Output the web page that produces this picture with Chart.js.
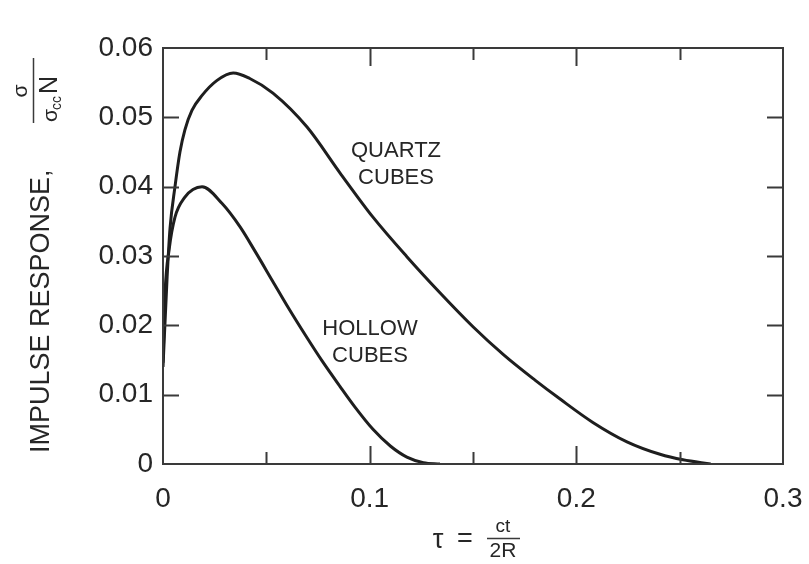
<!DOCTYPE html>
<html>
<head>
<meta charset="utf-8">
<script src="https://cdn.jsdelivr.net/npm/chart.js@4.4.1/dist/chart.umd.min.js"></script>
<style>
  html, body { margin: 0; padding: 0; background: #fff; }
  #wrap { width: 809px; height: 564px; }
</style>
</head>
<body>
<div id="wrap"><canvas id="chart" width="809" height="564"></canvas></div>
<script>
// values: tau = ct/2R on x, impulse response on y
const quartzTau = [0, 0.002, 0.0034, 0.0058, 0.0082, 0.0106, 0.014, 0.019, 0.026, 0.034, 0.042, 0.0532, 0.0697, 0.0856, 0.1016, 0.118, 0.134, 0.15, 0.165, 0.18, 0.192, 0.208, 0.2245, 0.2405, 0.2516, 0.265];
const quartzVal = [0.014, 0.027, 0.034, 0.040, 0.045, 0.0482, 0.051, 0.0532, 0.0553, 0.0564, 0.0556, 0.0535, 0.0486, 0.042, 0.0356, 0.0299, 0.0247, 0.0198, 0.0157, 0.0121, 0.0094, 0.006, 0.0032, 0.0014, 0.0006, 0];

const hollowTau = [0, 0.001, 0.003, 0.0058, 0.0106, 0.0145, 0.0189, 0.0285, 0.0373, 0.0445, 0.053, 0.0605, 0.0697, 0.0769, 0.0856, 0.0929, 0.1016, 0.11, 0.118, 0.126, 0.134];
const hollowVal = [0.0146, 0.0247, 0.031, 0.0356, 0.0385, 0.0396, 0.040, 0.0376, 0.0342, 0.0307, 0.0264, 0.0226, 0.0182, 0.0149, 0.0112, 0.0082, 0.005, 0.0026, 0.001, 0.0002, 0];

const xTicks = [0, 0.1, 0.2, 0.3];
const xMinorTicks = [0.05, 0.1, 0.15, 0.2, 0.25];
const yTicks = [0, 0.01, 0.02, 0.03, 0.04, 0.05, 0.06];

const seriesNames = ['QUARTZ CUBES', 'HOLLOW CUBES'];

const ink = '#1e1e1e';
const textInk = '#262626';
const fontFam = '"Liberation Sans", Arial, Helvetica, sans-serif';

function toPoints(xs, ys) {
    return xs.map((x, i) => ({ x: x, y: ys[i] }));
}

// box, inward ticks, axis titles and curve labels
const decorations = {
    id: 'decorations',
    afterDraw(chart) {
        const ctx = chart.ctx;
        const a = chart.chartArea;
        const xs = chart.scales.x;
        const ys = chart.scales.y;
        ctx.save();

        ctx.strokeStyle = '#3a3a3a';
        ctx.lineWidth = 2;
        ctx.strokeRect(a.left, a.top, a.right - a.left, a.bottom - a.top);

        // y ticks on both sides
        ctx.beginPath();
        yTicks.slice(1, -1).forEach(v => {
            const py = Math.round(ys.getPixelForValue(v)) + 0.5;
            ctx.moveTo(a.left, py); ctx.lineTo(a.left + 16, py);
            ctx.moveTo(a.right, py); ctx.lineTo(a.right - 16, py);
        });
        // x ticks on top and bottom, longer at the labelled ones
        xMinorTicks.forEach(v => {
            const px = Math.round(xs.getPixelForValue(v)) + 0.5;
            const major = xTicks.some(t => Math.abs(t - v) < 1e-9);
            const len = major ? 18 : 12;
            ctx.moveTo(px, a.bottom); ctx.lineTo(px, a.bottom - len);
            ctx.moveTo(px, a.top); ctx.lineTo(px, a.top + len);
        });
        ctx.stroke();

        ctx.fillStyle = textInk;

        // curve labels
        ctx.textAlign = 'center';
        ctx.textBaseline = 'middle';
        ctx.font = '22px ' + fontFam;
        const q = seriesNames[0].split(' ');
        ctx.fillText(q[0], 396, 151);
        ctx.fillText(q[1], 396, 178);
        const h = seriesNames[1].split(' ');
        ctx.fillText(h[0], 370, 329);
        ctx.fillText(h[1], 370, 356);

        // x title: tau = ct / 2R
        ctx.font = '27px ' + fontFam;
        ctx.fillText('\u03c4', 438, 541);
        ctx.fillText('=', 465, 540);
        ctx.font = '19px ' + fontFam;
        ctx.fillText('ct', 503, 527);
        ctx.font = '21px ' + fontFam;
        ctx.fillText('2R', 503, 551);
        ctx.lineWidth = 1.5;
        ctx.beginPath();
        ctx.moveTo(487, 538.5); ctx.lineTo(520, 538.5);
        ctx.stroke();

        // y title, rotated
        ctx.rotate(-Math.PI / 2);
        ctx.textAlign = 'left';
        ctx.font = '27px ' + fontFam;
        ctx.fillText('IMPULSE RESPONSE,', -453, 42);
        // fraction sigma / (sigma_cc N)
        ctx.lineWidth = 1.5;
        ctx.beginPath();
        ctx.moveTo(-123, 33.5); ctx.lineTo(-58, 33.5);
        ctx.stroke();
        ctx.textAlign = 'center';
        ctx.font = '21px ' + fontFam;
        ctx.fillText('\u03c3', -91, 21);
        ctx.textAlign = 'left';
        ctx.fillText('\u03c3', -122, 51);
        ctx.font = '14px ' + fontFam;
        ctx.fillText('cc', -110, 57);
        ctx.font = '25px ' + fontFam;
        ctx.fillText('N', -94, 50);
        ctx.restore();
    }
};

new Chart(document.getElementById('chart'), {
    type: 'line',
    data: {
        datasets: [
            {
                label: seriesNames[0],
                data: toPoints(quartzTau, quartzVal),
                borderColor: ink,
                borderWidth: 3,
                pointRadius: 0,
                cubicInterpolationMode: 'monotone',
                fill: false
            },
            {
                label: seriesNames[1],
                data: toPoints(hollowTau, hollowVal),
                borderColor: ink,
                borderWidth: 3,
                pointRadius: 0,
                cubicInterpolationMode: 'monotone',
                fill: false
            }
        ]
    },
    options: {
        responsive: false,
        animation: false,
        layout: { padding: { left: 0, top: 48, right: 26, bottom: 0 } },
        plugins: {
            legend: { display: false },
            tooltip: { enabled: false }
        },
        scales: {
            x: {
                type: 'linear',
                min: 0,
                max: 0.3,
                afterFit: s => {
                    s.height = 100;
                    s.paddingLeft = 0;
                    s.paddingRight = 0;
                },
                afterBuildTicks: s => { s.ticks = xTicks.map(v => ({ value: v })); },
                grid: { display: false, drawTicks: false },
                border: { display: false },
                ticks: {
                    padding: 18,
                    color: textInk,
                    font: { family: fontFam, size: 28 },
                    maxRotation: 0,
                    callback: v => v === 0 ? '0' : v.toFixed(1)
                }
            },
            y: {
                type: 'linear',
                min: 0,
                max: 0.06,
                afterFit: s => {
                    s.width = 163;
                    s.paddingTop = 0;
                    s.paddingBottom = 0;
                },
                afterBuildTicks: s => { s.ticks = yTicks.map(v => ({ value: v })); },
                grid: { display: false, drawTicks: false },
                border: { display: false },
                ticks: {
                    padding: 10,
                    color: textInk,
                    font: { family: fontFam, size: 28 },
                    callback: v => v === 0 ? '0' : v.toFixed(2)
                }
            }
        }
    },
    plugins: [decorations]
});
</script>
</body>
</html>
